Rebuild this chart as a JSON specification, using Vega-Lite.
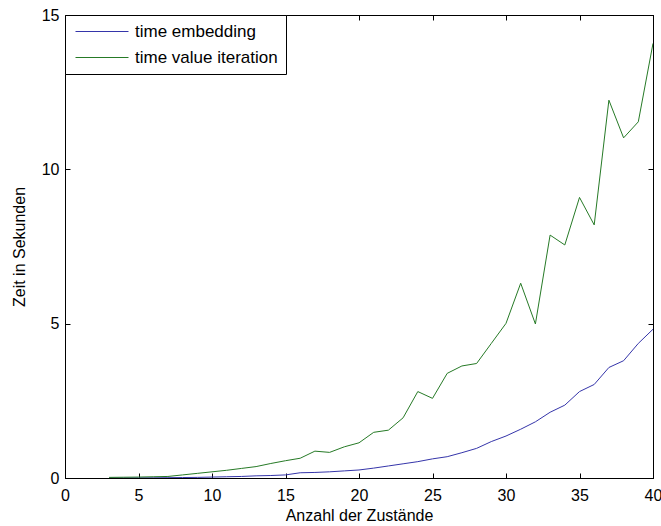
{
  "$schema": "https://vega.github.io/schema/vega-lite/v6.json",
  "width": 588,
  "height": 463,
  "autosize": "none",
  "padding": {"left": 65, "top": 15, "right": 8, "bottom": 48},
  "background": "white",
  "config": {
    "font": "Liberation Sans",
    "view": {"stroke": "black", "strokeWidth": 1},
    "axis": {
      "grid": false,
      "domainColor": "black",
      "tickColor": "black",
      "labelColor": "black",
      "titleColor": "black",
      "labelFont": "Liberation Sans",
      "titleFont": "Liberation Sans",
      "labelFontSize": 16,
      "titleFontSize": 16,
      "titleFontWeight": "normal",
      "tickSize": -5,
      "labelFlush": false
    }
  },
  "data": {
    "values": [
      {"n": 3, "series": "time embedding", "t": 0.001},
      {"n": 4, "series": "time embedding", "t": 0.002},
      {"n": 5, "series": "time embedding", "t": 0.004},
      {"n": 6, "series": "time embedding", "t": 0.006},
      {"n": 7, "series": "time embedding", "t": 0.01},
      {"n": 8, "series": "time embedding", "t": 0.015},
      {"n": 9, "series": "time embedding", "t": 0.02},
      {"n": 10, "series": "time embedding", "t": 0.03},
      {"n": 11, "series": "time embedding", "t": 0.04},
      {"n": 12, "series": "time embedding", "t": 0.05},
      {"n": 13, "series": "time embedding", "t": 0.07},
      {"n": 14, "series": "time embedding", "t": 0.08},
      {"n": 15, "series": "time embedding", "t": 0.1},
      {"n": 16, "series": "time embedding", "t": 0.17},
      {"n": 17, "series": "time embedding", "t": 0.18},
      {"n": 18, "series": "time embedding", "t": 0.2},
      {"n": 19, "series": "time embedding", "t": 0.23},
      {"n": 20, "series": "time embedding", "t": 0.26},
      {"n": 21, "series": "time embedding", "t": 0.32},
      {"n": 22, "series": "time embedding", "t": 0.39},
      {"n": 23, "series": "time embedding", "t": 0.46},
      {"n": 24, "series": "time embedding", "t": 0.53},
      {"n": 25, "series": "time embedding", "t": 0.62},
      {"n": 26, "series": "time embedding", "t": 0.69},
      {"n": 27, "series": "time embedding", "t": 0.82},
      {"n": 28, "series": "time embedding", "t": 0.96},
      {"n": 29, "series": "time embedding", "t": 1.18},
      {"n": 30, "series": "time embedding", "t": 1.36},
      {"n": 31, "series": "time embedding", "t": 1.58},
      {"n": 32, "series": "time embedding", "t": 1.82},
      {"n": 33, "series": "time embedding", "t": 2.13},
      {"n": 34, "series": "time embedding", "t": 2.36},
      {"n": 35, "series": "time embedding", "t": 2.8},
      {"n": 36, "series": "time embedding", "t": 3.03},
      {"n": 37, "series": "time embedding", "t": 3.58},
      {"n": 38, "series": "time embedding", "t": 3.8},
      {"n": 39, "series": "time embedding", "t": 4.36},
      {"n": 40, "series": "time embedding", "t": 4.82},
      {"n": 3, "series": "time value iteration", "t": 0.02},
      {"n": 4, "series": "time value iteration", "t": 0.025},
      {"n": 5, "series": "time value iteration", "t": 0.03},
      {"n": 6, "series": "time value iteration", "t": 0.04},
      {"n": 7, "series": "time value iteration", "t": 0.05},
      {"n": 8, "series": "time value iteration", "t": 0.1},
      {"n": 9, "series": "time value iteration", "t": 0.15},
      {"n": 10, "series": "time value iteration", "t": 0.2},
      {"n": 11, "series": "time value iteration", "t": 0.25},
      {"n": 12, "series": "time value iteration", "t": 0.31},
      {"n": 13, "series": "time value iteration", "t": 0.37},
      {"n": 14, "series": "time value iteration", "t": 0.47},
      {"n": 15, "series": "time value iteration", "t": 0.56},
      {"n": 16, "series": "time value iteration", "t": 0.64},
      {"n": 17, "series": "time value iteration", "t": 0.87},
      {"n": 18, "series": "time value iteration", "t": 0.83},
      {"n": 19, "series": "time value iteration", "t": 1.01},
      {"n": 20, "series": "time value iteration", "t": 1.14},
      {"n": 21, "series": "time value iteration", "t": 1.48},
      {"n": 22, "series": "time value iteration", "t": 1.55},
      {"n": 23, "series": "time value iteration", "t": 1.95},
      {"n": 24, "series": "time value iteration", "t": 2.8},
      {"n": 25, "series": "time value iteration", "t": 2.58},
      {"n": 26, "series": "time value iteration", "t": 3.39},
      {"n": 27, "series": "time value iteration", "t": 3.63},
      {"n": 28, "series": "time value iteration", "t": 3.71},
      {"n": 29, "series": "time value iteration", "t": 4.36},
      {"n": 30, "series": "time value iteration", "t": 5.01},
      {"n": 31, "series": "time value iteration", "t": 6.31},
      {"n": 32, "series": "time value iteration", "t": 4.99},
      {"n": 33, "series": "time value iteration", "t": 7.87},
      {"n": 34, "series": "time value iteration", "t": 7.55},
      {"n": 35, "series": "time value iteration", "t": 9.09},
      {"n": 36, "series": "time value iteration", "t": 8.2},
      {"n": 37, "series": "time value iteration", "t": 12.24},
      {"n": 38, "series": "time value iteration", "t": 11.02},
      {"n": 39, "series": "time value iteration", "t": 11.54},
      {"n": 40, "series": "time value iteration", "t": 14.08}
    ]
  },
  "layer": [
    {
      "mark": {"type": "line", "strokeWidth": 1, "clip": true},
      "encoding": {
        "x": {
          "field": "n", "type": "quantitative",
          "scale": {"domain": [0, 40], "nice": false},
          "axis": {"orient": "bottom", "values": [0, 5, 10, 15, 20, 25, 30, 35, 40], "title": "Anzahl der Zustände", "labelPadding": 14, "titlePadding": 4}
        },
        "y": {
          "field": "t", "type": "quantitative",
          "scale": {"domain": [0, 15], "nice": false},
          "axis": {"orient": "left", "values": [0, 5, 10, 15], "title": "Zeit in Sekunden", "labelPadding": 11, "titlePadding": 14}
        },
        "color": {
          "field": "series", "type": "nominal",
          "scale": {"domain": ["time embedding", "time value iteration"], "range": ["#3535aa", "#267a26"]},
          "legend": {
            "title": null,
            "orient": "top-left",
            "offset": 0,
            "padding": 8,
            "strokeColor": "black",
            "fillColor": "white",
            "symbolType": "stroke",
            "symbolSize": 2809,
            "symbolOffset": 2,
            "clipHeight": 17,
            "labelFontSize": 17,
            "labelFont": "Liberation Sans",
            "labelColor": "black",
            "labelOffset": 6,
            "rowPadding": 8,
            "cornerRadius": 0,
            "encode": {"symbols": {"update": {"stroke": {"scale": "color", "field": "value"}, "strokeWidth": {"value": 1}}}}
          }
        }
      }
    },
    {
      "mark": {"type": "line", "opacity": 0},
      "encoding": {
        "x": {"field": "n", "type": "quantitative", "axis": {"orient": "top", "values": [0, 5, 10, 15, 20, 25, 30, 35, 40], "labels": false, "title": null}},
        "y": {"field": "t", "type": "quantitative", "axis": {"orient": "right", "values": [0, 5, 10, 15], "labels": false, "title": null}},
        "detail": {"field": "series"}
      }
    }
  ],
  "resolve": {"axis": {"x": "independent", "y": "independent"}}
}
